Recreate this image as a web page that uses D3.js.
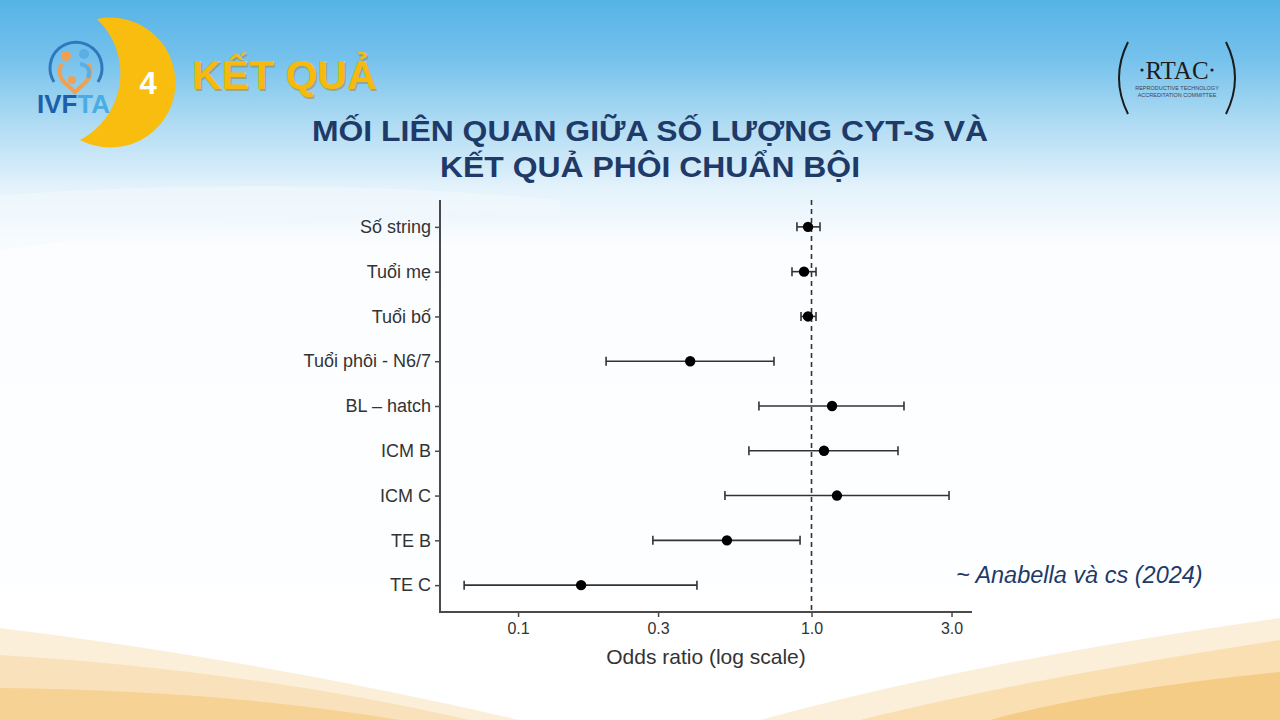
<!DOCTYPE html>
<html><head><meta charset="utf-8">
<script src="https://cdn.jsdelivr.net/npm/d3@7/dist/d3.min.js"></script>
<style>html,body{margin:0;padding:0;overflow:hidden;background:#fff}svg{display:block}</style>
</head><body>
<svg id="c" width="1280" height="720"></svg>
<script>
// ---- data ----
const categories = ["Số string","Tuổi mẹ","Tuổi bố","Tuổi phôi - N6/7","BL – hatch","ICM B","ICM C","TE B","TE C"];
const oddsRatio  = [0.973, 0.943, 0.973, 0.386, 1.175, 1.103, 1.221, 0.515, 0.164];
const ciLower    = [0.892, 0.858, 0.921, 0.1995, 0.662, 0.612, 0.507, 0.288, 0.0655];
const ciUpper    = [1.069, 1.036, 1.036, 0.745, 2.066, 1.971, 2.942, 0.914, 0.407];
const xTicks     = [0.1, 0.3, 1.0, 3.0];
const xTickLabels= ["0.1","0.3","1.0","3.0"];
const xDomain    = [0.0542, 3.523];
const refValue   = 1.0;

const svg = d3.select("#c");
const defs = svg.append("defs");
const font = "'Liberation Sans', Arial, sans-serif";

// background gradient
const bg = defs.append("linearGradient").attr("id","bg").attr("x1",0).attr("y1",0).attr("x2",0).attr("y2",1);
[[0,"#56b3e6"],[0.08,"#74c1ec"],[0.17,"#aedbf3"],[0.26,"#e3f2fb"],[0.34,"#fbfdff"],[1,"#ffffff"]]
  .forEach(s=>bg.append("stop").attr("offset",s[0]).attr("stop-color",s[1]));
svg.append("rect").attr("width",1280).attr("height",720).attr("fill","url(#bg)");
// light swoosh
svg.append("path").attr("d","M0,195 Q300,175 560,200 L560,215 Q300,205 0,250 Z").attr("fill","#f4f9fd").attr("opacity",0.5);

// bottom waves
const waves = [
  {d:"M0,628 Q260,660 520,720 L0,720 Z", c:"#fcefd9"},
  {d:"M0,655 Q250,670 470,720 L0,720 Z", c:"#f9e2bb"},
  {d:"M0,688 Q220,690 400,720 L0,720 Z", c:"#f6d294"},
  {d:"M1280,618 Q980,660 760,720 L1280,720 Z", c:"#fcefd9"},
  {d:"M1280,640 Q1020,680 860,720 L1280,720 Z", c:"#f9dfb2"},
  {d:"M1280,672 Q1100,690 990,720 L1280,720 Z", c:"#f5cc86"}
];
waves.forEach(w=>svg.append("path").attr("d",w.d).attr("fill",w.c));

// crescent moon
svg.append("path").attr("d","M97,19 A65,65 0 1 1 80,140 A75,75 0 0 0 97,19 Z").attr("fill","#f8bd0e");
svg.append("text").attr("x",148).attr("y",94).attr("text-anchor","middle")
  .attr("font-family",font).attr("font-weight","bold")
  .attr("font-size",31).attr("fill","#ffffff").text("4");

// IVFTA logo
const lg = svg.append("g");
lg.append("path").attr("d","M54,82 A26,26 0 1 1 98,82").attr("fill","none").attr("stroke","#2f78bd").attr("stroke-width",3);
lg.append("circle").attr("cx",66).attr("cy",56).attr("r",5).attr("fill","#f0a050");
lg.append("circle").attr("cx",84).attr("cy",54).attr("r",5).attr("fill","#5aaee3");
lg.append("path").attr("d","M62,64 Q56,72 64,82 L75,92 L86,82 Q94,72 88,64").attr("fill","none").attr("stroke","#f0a050").attr("stroke-width",4);
lg.append("path").attr("d","M80,64 Q92,66 88,78").attr("fill","none").attr("stroke","#5aaee3").attr("stroke-width",4);
lg.append("circle").attr("cx",72).attr("cy",80).attr("r",4).attr("fill","#f0a050");
const lt = svg.append("text").attr("x",37).attr("y",113)
  .attr("font-family",font).attr("font-weight","bold").attr("font-size",25)
  .attr("textLength",73).attr("lengthAdjust","spacingAndGlyphs");
lt.append("tspan").attr("fill","#1f5ea8").text("IVF");
lt.append("tspan").attr("fill","#49ade3").text("TA");

// KẾT QUẢ heading
svg.append("text").attr("x",192).attr("y",89).attr("font-family",font)
  .attr("font-weight","bold").attr("font-size",41).attr("fill","#9a7410").attr("opacity",0.4)
  .attr("transform","translate(1.5,1.5)").text("KẾT QUẢ");
svg.append("text").attr("x",192).attr("y",89).attr("font-family",font)
  .attr("font-weight","bold").attr("font-size",41).attr("fill","#f6b90c").text("KẾT QUẢ");

// RTAC logo
const serif = "'Liberation Serif', 'Times New Roman', serif";
const rg = svg.append("g");
rg.append("path").attr("d","M1128,42 Q1110,78 1128,114").attr("fill","none").attr("stroke","#1a1a1a").attr("stroke-width",2);
rg.append("path").attr("d","M1226,42 Q1244,78 1226,114").attr("fill","none").attr("stroke","#1a1a1a").attr("stroke-width",2);
rg.append("text").attr("x",1177).attr("y",79).attr("text-anchor","middle").attr("font-family",serif).attr("font-size",25).attr("fill","#1c1c1c").text("RTAC");
rg.append("circle").attr("cx",1142).attr("cy",70).attr("r",1.6).attr("fill","#1c1c1c");
rg.append("circle").attr("cx",1212).attr("cy",70).attr("r",1.6).attr("fill","#1c1c1c");
rg.append("text").attr("x",1177).attr("y",90).attr("text-anchor","middle").attr("font-size",5.5)
  .attr("font-family",font).attr("fill","#444").text("REPRODUCTIVE TECHNOLOGY");
rg.append("text").attr("x",1177).attr("y",97).attr("text-anchor","middle").attr("font-size",5.5)
  .attr("font-family",font).attr("fill","#444").text("ACCREDITATION COMMITTEE");

// title
const titleLines = ["MỐI LIÊN QUAN GIỮA SỐ LƯỢNG CYT-S VÀ","KẾT QUẢ PHÔI CHUẨN BỘI"];
const titleW = [676, 420];
titleLines.forEach((t,i)=>{
  svg.append("text").attr("x",650).attr("y",141+i*36).attr("text-anchor","middle")
    .attr("font-family",font).attr("font-weight","bold")
    .attr("font-size",29).attr("fill","#1f3a68")
    .attr("textLength",titleW[i]).attr("lengthAdjust","spacingAndGlyphs").text(t);
});

// ---- chart ----
const pL=440, pR=972, pT=200, pB=612;
const x = d3.scaleLog().domain(xDomain).range([pL,pR]);
const y = d3.scalePoint().domain(categories).range([pT,pB]).padding(0.6);
const rows = categories.map((c,i)=>({c, or:oddsRatio[i], lo:ciLower[i], hi:ciUpper[i]}));
const axisCol = "#4a4a4a";

// reference line
svg.append("line").attr("x1",x(refValue)).attr("x2",x(refValue)).attr("y1",pT).attr("y2",pB)
  .attr("stroke","#333").attr("stroke-width",1.6).attr("stroke-dasharray","5,4");

// y axis
const ya = svg.append("g").attr("transform",`translate(${pL},0)`)
  .call(d3.axisLeft(y).tickSize(5).tickSizeOuter(0).tickPadding(4));
ya.select(".domain").remove();
ya.append("line").attr("x1",0).attr("x2",0).attr("y1",pT).attr("y2",pB+1).attr("stroke",axisCol).attr("stroke-width",2);
ya.selectAll(".tick line").attr("stroke",axisCol).attr("stroke-width",1.5);
ya.selectAll(".tick text").attr("font-family",font).attr("font-size",18).attr("fill","#333");

// x axis
const xa = svg.append("g").attr("transform",`translate(0,${pB})`)
  .call(d3.axisBottom(x).tickValues(xTicks).tickFormat((d,i)=>xTickLabels[i]).tickSize(5).tickSizeOuter(0).tickPadding(6));
xa.select(".domain").remove();
xa.append("line").attr("x1",pL-1).attr("x2",pR).attr("y1",0).attr("y2",0).attr("stroke",axisCol).attr("stroke-width",2);
xa.selectAll(".tick line").attr("stroke",axisCol).attr("stroke-width",1.5);
xa.selectAll(".tick text").attr("font-family",font).attr("font-size",16).attr("fill","#333");

svg.append("text").attr("x",706).attr("y",664).attr("text-anchor","middle")
  .attr("font-family",font).attr("font-size",21).attr("fill","#333").text("Odds ratio (log scale)");

// error bars
const eb = svg.append("g").attr("stroke","#333").attr("stroke-width",1.6);
eb.selectAll("line.ci").data(rows).join("line").attr("class","ci")
  .attr("x1",d=>x(d.lo)).attr("x2",d=>x(d.hi)).attr("y1",d=>y(d.c)).attr("y2",d=>y(d.c));
eb.selectAll("line.capl").data(rows).join("line").attr("class","capl")
  .attr("x1",d=>x(d.lo)).attr("x2",d=>x(d.lo)).attr("y1",d=>y(d.c)-4.5).attr("y2",d=>y(d.c)+4.5);
eb.selectAll("line.caph").data(rows).join("line").attr("class","caph")
  .attr("x1",d=>x(d.hi)).attr("x2",d=>x(d.hi)).attr("y1",d=>y(d.c)-4.5).attr("y2",d=>y(d.c)+4.5);
svg.append("g").selectAll("circle").data(rows).join("circle")
  .attr("cx",d=>x(d.or)).attr("cy",d=>y(d.c)).attr("r",5.2).attr("fill","#000");

// citation
svg.append("text").attr("x",956).attr("y",583).attr("font-family",font).attr("font-style","italic")
  .attr("font-size",23.5).attr("fill","#1f3a68").text("~ Anabella và cs (2024)");
</script>
</body></html>
